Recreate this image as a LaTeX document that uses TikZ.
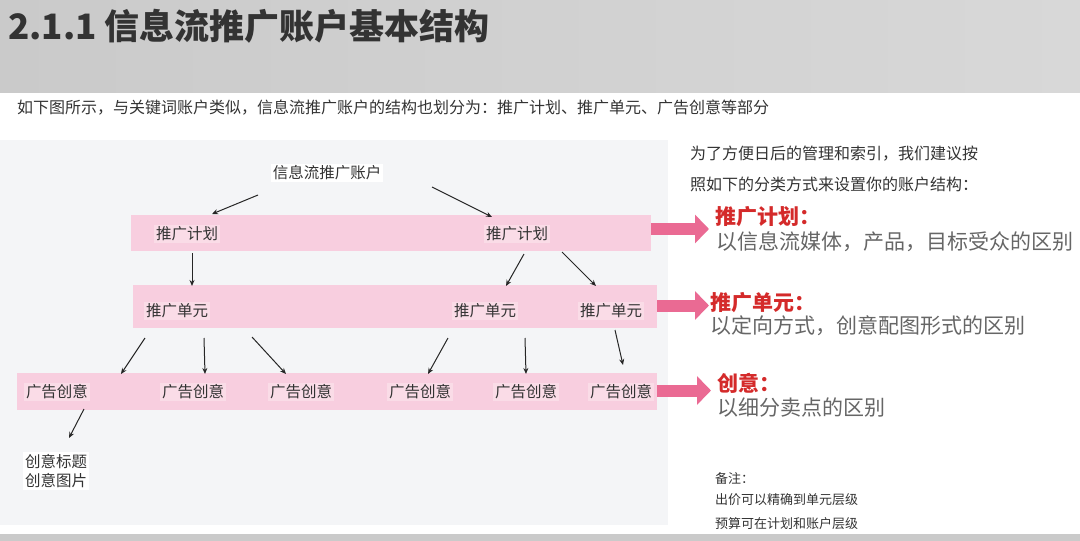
\documentclass[tikz,border=0pt]{standalone}
\usepackage{fontspec}
\setmainfont{Noto Sans CJK SC}
\usetikzlibrary{arrows.meta, positioning, calc}
\definecolor{headgray}{HTML}{CACACA}
\definecolor{headlight}{HTML}{D8D8D8}
\definecolor{panelgray}{HTML}{F4F5F7}
\definecolor{barpink}{HTML}{F8CEDF}
\definecolor{barlight}{HTML}{FADCE7}
\definecolor{arrowpink}{HTML}{EA6A93}
\definecolor{headred}{HTML}{D42A2A}
\definecolor{textdark}{HTML}{333333}
\definecolor{textgray}{HTML}{666666}

\begin{document}
\begin{tikzpicture}[
    x=1pt, y=-1pt,
    bar/.style={fill=barpink, inner sep=0pt},
    tag/.style={fill=barlight, inner sep=2pt, text=textdark, font=\fontsize{15.5}{19}\selectfont},
    arrow/.style={-{Stealth[length=6pt, width=5pt]}, line width=1pt, black!85},
    bigarrow/.style={-{Triangle[width=28pt, length=14pt]}, line width=12pt, arrowpink, shorten >=6pt},
    note/.style={anchor=west, inner sep=0pt, text=textdark},
]
    \useasboundingbox (0,0) rectangle (1080,541);
    % Background
    \shade[left color=headgray, right color=headlight] (0,0) rectangle (1080,92);
    \fill[panelgray] (0,140) rectangle (668,525);
    \fill[headgray] (0,534) rectangle (1080,541);

    % Title
    \node[note, font=\fontsize{35}{40}\selectfont\bfseries] (title) at (8,26) {2.1.1 信息流推广账户基本结构};
    \node[note, font=\fontsize{16}{19}\selectfont] (intro) at (17,108) {如下图所示，与关键词账户类似，信息流推广账户的结构也划分为：推广计划、推广单元、广告创意等部分};

    % Bars
    \node[bar, minimum width=520, minimum height=36] (planbar) at (391,233) {};
    \node[bar, minimum width=524, minimum height=43] (unitbar) at (395,306.5) {};
    \node[bar, minimum width=640, minimum height=37] (adbar) at (337,391.5) {};

    % Tree
    \node[tag, fill=white] (account) at (327,173) {信息流推广账户};
    \node[tag] (plan1) at (187,234) {推广计划};
    \node[tag] (plan2) at (517,234) {推广计划};
    \node[tag] (unit1) at (177,311) {推广单元};
    \node[tag] (unit2) at (485,311) {推广单元};
    \node[tag] (unit3) at (611,311) {推广单元};
    \node[tag] (ad1) at (57,392) {广告创意};
    \node[tag] (ad2) at (193,392) {广告创意};
    \node[tag] (ad3) at (301,392) {广告创意};
    \node[tag] (ad4) at (420,392) {广告创意};
    \node[tag] (ad5) at (526,392) {广告创意};
    \node[tag] (ad6) at (621,392) {广告创意};
    \node[tag, fill=white, align=left] (detail) at (56,471) {创意标题\\创意图片};

    % Arrows
    \draw[arrow] ([shift={(-69,22)}]account.center) -- ([shift={(25,-20)}]plan1.center);
    \draw[arrow] ([shift={(105,14)}]account.center) -- ([shift={(-25,-17)}]plan2.center);
    \draw[arrow] ([shift={(5,19)}]plan1.center) -- ([shift={(15,-25)}]unit1.center);
    \draw[arrow] ([shift={(7,20)}]plan2.center) -- ([shift={(21,-25)}]unit2.center);
    \draw[arrow] ([shift={(45,18)}]plan2.center) -- ([shift={(-15,-25)}]unit3.center);
    \draw[arrow] ([shift={(-32,27)}]unit1.center) -- ([shift={(64,-18)}]ad1.center);
    \draw[arrow] ([shift={(27,27)}]unit1.center) -- ([shift={(12,-18)}]ad2.center);
    \draw[arrow] ([shift={(75,26)}]unit1.center) -- ([shift={(-15,-18)}]ad3.center);
    \draw[arrow] ([shift={(-37,27)}]unit2.center) -- ([shift={(8,-18)}]ad4.center);
    \draw[arrow] ([shift={(40,27)}]unit2.center) -- ([shift={(0,-18)}]ad5.center);
    \draw[arrow] ([shift={(4,19)}]unit3.center) -- ([shift={(2,-27)}]ad6.center);
    \draw[arrow] ([shift={(27,17)}]ad1.center) -- ([shift={(13,-33)}]detail.center);

    % Right column
    \node[note, font=\fontsize{16}{19}\selectfont] (advice1) at (690,154) {为了方便日后的管理和索引，我们建议按};
    \node[note, font=\fontsize{16}{19}\selectfont] (advice2) at (690,184) {照如下的分类方式来设置你的账户结构：};
    \node[note, text=headred, font=\fontsize{21}{24}\selectfont\bfseries] (planhead) at (715,217) {推广计划：};
    \node[note, text=textgray, font=\fontsize{21}{24}\selectfont] (plandesc) at (716,242) {以信息流媒体，产品，目标受众的区别};
    \node[note, text=headred, font=\fontsize{21}{24}\selectfont\bfseries] (unithead) at (710,303) {推广单元：};
    \node[note, text=textgray, font=\fontsize{21}{24}\selectfont] (unitdesc) at (710,326) {以定向方式，创意配图形式的区别};
    \node[note, text=headred, font=\fontsize{21}{24}\selectfont\bfseries] (adhead) at (717,383) {创意：};
    \node[note, text=textgray, font=\fontsize{21}{24}\selectfont] (addesc) at (717,408) {以细分卖点的区别};

    \draw[bigarrow] ($(planbar.east)+(0,-4)$) -- ($(planbar.east -| planhead.west)+(0,-4)$);
    \draw[bigarrow] ($(unitbar.east)+(0,-1)$) -- ($(unitbar.east -| planhead.west)+(0,-1)$);
    \draw[bigarrow] ($(adbar.east)+(0,-1)$) -- ($(adbar.east -| adhead.west)+(0,-1)$);

    % Notes
    \node[note, font=\fontsize{13}{16}\selectfont] (remark) at (715,479) {备注：};
    \node[note, font=\fontsize{13}{16}\selectfont] (bid) at (715,500) {出价可以精确到单元层级};
    \node[note, font=\fontsize{13}{16}\selectfont] (budget) at (715,524) {预算可在计划和账户层级};
\end{tikzpicture}
\end{document}
